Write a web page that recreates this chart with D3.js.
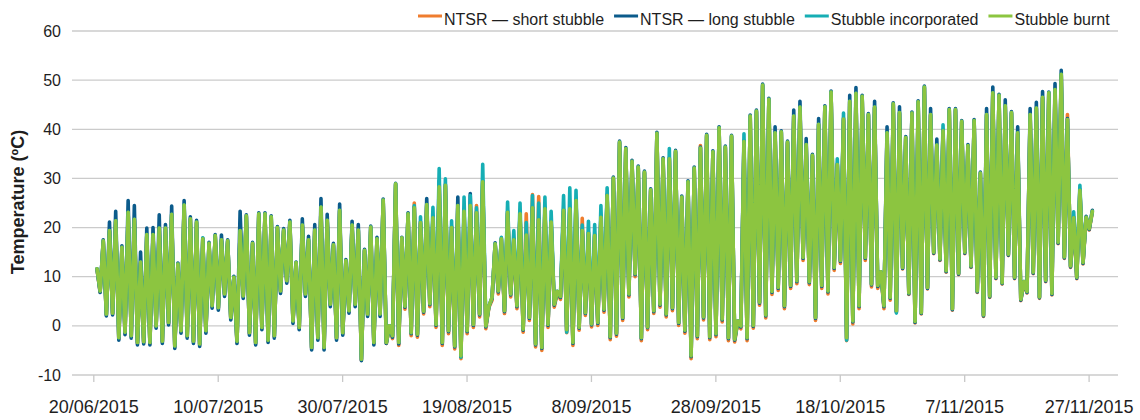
<!DOCTYPE html>
<html>
  <head>
    <meta charset="utf-8">
    <title>Temperature under stubble treatments</title>
    <script src="https://cdn.jsdelivr.net/npm/d3@7"></script>
    <style>
      body { margin: 0; background: #fff; }
      svg { display: block; font-family: "Liberation Sans", Arial, Helvetica, sans-serif; }
      .grid line { stroke: #cbcbcb; stroke-width: 1.3; }
      .xAxis line { stroke: #c8c8c8; stroke-width: 1.3; }
      .tickLabel { fill: #1e1e1e; }
      .series { fill: none; stroke-width: 3.6; stroke-linejoin: round; stroke-linecap: round; }
    </style>
  </head>
  <body>
    <svg id="chart" width="1140" height="420"></svg>

    <script>
      // ---- data: one daily low and high per treatment, 20/06/2015 to 27/11/2015
      startDay = "20/06/2015";
      endDay = "27/11/2015";
      tickLabels = ["20/06/2015", "10/07/2015", "30/07/2015", "19/08/2015", "8/09/2015",
                    "28/09/2015", "18/10/2015", "7/11/2015", "27/11/2015"];
      yTicks = [-10, 0, 10, 20, 30, 40, 50, 60];
      seriesNames = ["NTSR \u2014 short stubble", "NTSR \u2014 long stubble", "Stubble incorporated", "Stubble burnt"];
      seriesColours = ["#ef7d2e", "#0b5b8b", "#16aeb4", "#8cc540"];

      shortMax = [
        11.4, 17.1, 19.2, 21.2, 15.8, 22.9, 21.5, 12.8, 18.4, 18.4,
        19.7, 19.7, 22.5, 12.4, 24.4, 21.6, 20.9, 17.5, 16.6, 18.2,
        17.3, 17.1, 9.7, 19.2, 22.2, 16.6, 22.6, 22.6, 22.0, 19.8,
        19.3, 20.9, 12.7, 20.3, 17.3, 19.3, 24.0, 21.3, 16.3, 23.3,
        13.1, 20.3, 19.3, 15.2, 19.9, 17.5, 25.4, -0.2, 28.7, 17.7,
        22.6, 25.0, 20.8, 24.5, 21.8, 28.1, 28.4, 19.8, 24.3, 23.1,
        24.3, 24.5, 29.1, 3.8, 16.5, 17.5, 22.9, 17.3, 22.6, 22.8,
        26.7, 26.3, 23.6, 20.9, 6.8, 23.3, 23.6, 25.3, 21.9, 18.6,
        18.2, 21.9, 26.3, 29.9, 37.2, 35.9, 33.3, 32.1, 31.1, 27.5,
        39.0, 33.8, 33.8, 35.3, 26.0, 29.1, 31.9, 36.7, 38.6, 35.2,
        40.1, 36.2, 38.4, 0.8, 37.3, 42.5, 43.5, 48.8, 45.9, 39.1,
        39.3, 37.2, 42.5, 44.3, 36.7, 34.5, 40.8, 44.4, 47.4, 32.6,
        41.9, 45.5, 47.1, 46.5, 42.8, 44.3, 10.8, 39.1, 45.0, 43.2,
        38.1, 43.1, 45.4, 48.4, 42.8, 36.6, 39.5, 43.8, 43.8, 41.4,
        36.5, 41.6, 30.9, 42.8, 47.2, 46.7, 44.6, 43.2, 39.1, 8.8,
        42.8, 44.1, 46.3, 47.2, 47.9, 51.0, 43.0, 21.8, 27.4, 21.9, 23.1
      ];
      shortMin = [
        null, 6.9, 2.2, 2.4, -2.6, -1.5, -2.2, -3.6, -3.4, -3.6,
        -0.2, -3.3, 0.5, -4.3, -1.2, -2.2, -3.3, -3.9, -1.2, 3.9,
        3.5, 6.3, 1.5, -3.3, 5.9, -1.6, -3.6, -0.5, -3.1, -2.2,
        6.9, 9.0, 0.8, -0.5, 6.3, -4.6, -2.6, -4.6, 4.2, -2.6,
        -1.6, 2.9, 4.2, -7.0, 2.2, -3.6, 2.2, -3.6, -2.6, -4.0,
        3.4, -2.0, -2.3, 2.4, 3.9, -0.3, -4.0, -1.6, -4.7, -6.7,
        -1.6, -0.3, 1.8, -0.6, 5.2, 6.5, 2.5, 5.9, 3.5, -1.3,
        1.1, -4.3, -5.0, -0.3, 3.8, 5.4, -1.4, -4.0, -0.9, 2.1,
        -0.2, 0.1, 2.8, -2.8, -2.1, 1.1, 5.9, 10.0, -3.0, -0.8,
        2.5, 3.8, 1.8, 3.1, 0.1, -1.5, -6.7, -2.6, 1.2, -2.8,
        -2.2, 0.8, -3.0, -3.3, -0.6, -3.0, -0.5, 4.2, 1.6, 6.4,
        7.2, 3.5, 7.6, 8.6, 13.3, 8.4, 1.1, 7.6, 6.5, 11.3,
        12.7, -3.0, 0.4, 3.5, 13.3, 7.9, 7.6, 3.5, 5.2, 2.8,
        11.6, 6.4, 0.6, 2.4, 7.5, 14.7, 13.3, 10.9, 3.2, 10.4,
        14.7, 11.9, 6.8, 1.9, 5.8, 9.6, 8.5, 14.3, 9.6, 5.1,
        6.7, 10.6, 5.6, 9.0, 6.3, 16.7, 13.7, 11.9, 9.6, 12.6, 19.5
      ];

      longMax = [
        11.6, 17.5, 21.1, 23.3, 16.3, 25.5, 24.5, 15.0, 19.9, 20.0,
        22.6, 20.6, 24.4, 12.8, 25.5, 22.2, 21.5, 17.8, 17.0, 18.6,
        18.5, 17.5, 10.1, 23.3, 22.6, 17.0, 23.0, 23.0, 22.4, 20.2,
        19.8, 21.5, 13.0, 21.8, 18.2, 20.6, 25.9, 22.7, 16.8, 24.8,
        13.5, 21.3, 20.6, 15.6, 20.3, 18.0, 25.8, 0.0, 29.0, 18.0,
        23.0, 24.2, 21.2, 25.9, 22.3, 29.5, 28.8, 20.2, 26.2, 23.6,
        26.9, 23.2, 29.5, 4.0, 16.9, 17.8, 23.3, 17.7, 23.0, 18.7,
        24.2, 21.8, 24.0, 21.3, 7.0, 23.7, 24.0, 25.7, 19.6, 19.0,
        18.6, 22.3, 26.7, 30.3, 37.6, 36.3, 33.7, 32.5, 31.5, 27.9,
        39.4, 34.2, 34.2, 35.7, 26.4, 29.5, 32.3, 36.4, 39.0, 35.6,
        40.5, 36.6, 38.8, 1.0, 37.7, 42.9, 43.9, 49.2, 46.3, 40.5,
        39.7, 37.6, 43.9, 45.7, 38.1, 34.9, 42.2, 44.8, 47.8, 33.0,
        42.3, 46.9, 48.5, 46.9, 43.2, 45.7, 11.0, 40.5, 45.4, 44.6,
        38.5, 43.5, 45.8, 48.8, 44.2, 38.0, 39.9, 44.2, 44.2, 41.8,
        36.9, 42.0, 31.3, 44.2, 48.6, 47.1, 46.0, 43.6, 40.5, 9.0,
        44.2, 45.5, 47.7, 47.6, 49.3, 52.0, 42.2, 22.2, 27.8, 22.3, 23.5
      ];
      longMin = [
        null, 6.8, 2.0, 2.2, -2.9, -1.8, -2.5, -3.9, -3.7, -3.9,
        -0.5, -3.6, 0.2, -4.6, -1.5, -2.5, -3.6, -4.2, -1.5, 3.6,
        3.2, 6.0, 1.2, -3.6, 5.6, -1.9, -3.9, -0.8, -3.4, -2.5,
        6.6, 8.7, 0.5, -0.8, 6.0, -4.9, -2.9, -4.9, 3.9, -2.9,
        -1.9, 2.6, 3.9, -7.1, 1.9, -3.9, 1.9, -3.6, -2.3, -3.7,
        3.8, -1.6, -1.9, 2.8, 4.3, 0.1, -3.6, -1.2, -4.3, -6.3,
        -1.2, 0.1, 2.2, -0.2, 5.6, 6.9, 2.9, 6.3, 3.9, -0.9,
        1.5, -3.9, -4.6, 0.1, 4.2, 5.8, -1.0, -3.6, -0.5, 2.5,
        0.2, 0.5, 3.2, -2.4, -1.7, 1.5, 6.3, 10.4, -2.6, -0.4,
        2.9, 4.2, 2.2, 3.5, 0.5, -1.1, -6.3, -2.2, 1.6, -2.4,
        -1.8, 1.2, -2.6, -2.9, -0.2, -2.6, -0.1, 4.6, 2.0, 6.8,
        7.6, 3.9, 8.0, 9.0, 13.7, 8.8, 1.5, 8.0, 6.9, 11.7,
        13.1, -2.6, 0.8, 3.9, 13.7, 8.3, 8.0, 3.9, 5.6, 2.9,
        11.7, 6.5, 0.7, 2.5, 7.6, 14.8, 13.4, 11.0, 3.3, 10.5,
        14.8, 12.0, 6.9, 2.0, 5.9, 9.7, 8.6, 14.4, 9.7, 5.2,
        6.8, 10.7, 5.7, 9.1, 6.4, 16.8, 13.8, 12.0, 9.7, 12.7, 19.6
      ];

      incorporatedMax = [
        11.6, 17.3, 19.4, 21.4, 16.0, 23.1, 21.7, 13.0, 18.6, 18.6,
        19.9, 19.9, 22.7, 12.6, 24.6, 21.8, 21.1, 17.9, 16.8, 18.4,
        17.5, 17.3, 9.9, 19.4, 22.4, 16.8, 22.8, 22.8, 22.2, 20.0,
        19.5, 21.1, 12.9, 20.5, 17.5, 19.5, 24.2, 21.5, 16.5, 23.5,
        13.3, 20.5, 19.5, 15.4, 20.1, 17.7, 25.6, 0.0, 28.9, 17.9,
        22.8, 24.5, 22.2, 24.7, 24.1, 32.0, 29.9, 21.4, 24.5, 26.2,
        26.5, 24.0, 32.9, 4.0, 16.7, 18.0, 25.2, 19.4, 25.0, 21.0,
        26.5, 25.0, 26.2, 23.3, 7.0, 26.5, 28.1, 27.6, 20.5, 21.3,
        20.6, 24.5, 28.1, 30.1, 37.4, 36.1, 33.5, 32.3, 31.3, 27.7,
        39.2, 34.0, 36.1, 35.5, 26.2, 29.3, 32.1, 36.2, 38.8, 35.4,
        40.3, 36.4, 38.6, 1.0, 39.1, 42.7, 43.7, 49.0, 46.1, 39.3,
        39.5, 37.4, 42.7, 44.5, 36.9, 34.7, 41.0, 44.6, 47.6, 34.0,
        43.3, 45.7, 47.3, 46.7, 43.0, 44.5, 11.0, 39.3, 45.2, 43.4,
        38.3, 43.3, 45.6, 48.6, 43.0, 36.8, 40.9, 44.0, 44.0, 41.6,
        36.7, 41.8, 31.1, 43.0, 47.4, 46.9, 44.8, 43.4, 39.3, 9.0,
        43.0, 44.3, 46.5, 47.4, 48.1, 51.2, 42.0, 23.2, 28.6, 22.1, 23.3
      ];
      incorporatedMin = [
        null, 7.1, 2.4, 2.6, -2.4, -1.3, -2.0, -3.4, -3.2, -3.4,
        0.0, -3.1, 0.7, -4.1, -1.0, -2.0, -3.1, -3.7, -1.0, 4.1,
        3.7, 6.5, 1.7, -3.1, 6.1, -1.4, -3.4, -0.3, -2.9, -2.0,
        7.1, 9.2, 1.0, -0.3, 6.5, -4.4, -2.4, -4.4, 4.4, -2.4,
        -1.4, 3.1, 4.4, -6.8, 2.4, -3.4, 2.4, -3.4, -2.0, -3.4,
        4.0, -1.4, -1.7, 3.0, 4.5, 0.3, -3.4, -1.0, -4.1, -6.4,
        -1.0, 0.3, 2.4, 0.0, 5.8, 7.1, 3.1, 6.5, 4.1, -0.7,
        1.7, -3.7, -4.4, 0.3, 4.4, 6.0, -1.3, -3.4, -0.3, 2.7,
        0.4, 0.7, 3.4, -2.2, -1.5, 1.7, 6.5, 10.6, -2.4, -0.2,
        3.1, 4.4, 2.4, 3.7, 0.7, -0.9, -6.0, -2.0, 1.8, -2.2,
        -1.6, 1.4, -2.4, -2.7, 0.0, -2.4, 0.1, 4.8, 2.2, 7.0,
        7.8, 4.1, 8.2, 9.2, 13.9, 9.0, 1.7, 8.2, 7.1, 11.9,
        13.3, -2.9, 1.0, 4.1, 13.9, 8.5, 8.2, 4.1, 5.8, 2.6,
        11.9, 6.7, 0.9, 2.7, 7.8, 15.0, 13.6, 11.2, 3.5, 10.7,
        15.0, 12.2, 7.1, 2.2, 6.1, 9.9, 8.8, 14.6, 9.9, 5.4,
        7.0, 10.9, 5.9, 9.3, 6.6, 17.0, 14.0, 12.2, 9.9, 12.9, 19.8
      ];

      burntMax = [
        11.6, 17.3, 19.4, 21.4, 16.0, 23.1, 21.7, 13.0, 18.6, 18.6,
        19.9, 19.9, 22.7, 12.6, 24.6, 21.8, 21.1, 17.7, 16.8, 18.4,
        17.5, 17.3, 9.9, 19.4, 22.4, 16.8, 22.8, 22.8, 22.2, 20.0,
        19.5, 21.1, 12.9, 20.5, 17.5, 19.5, 24.2, 21.5, 16.5, 23.5,
        13.3, 20.5, 19.5, 15.4, 20.1, 17.7, 25.6, 0.0, 28.9, 17.9,
        22.8, 24.0, 21.0, 24.7, 22.0, 28.3, 28.6, 20.0, 24.5, 23.3,
        24.5, 23.0, 29.3, 4.0, 16.7, 17.7, 23.1, 17.5, 22.8, 18.5,
        24.0, 21.6, 23.8, 21.1, 7.0, 23.5, 23.8, 25.5, 19.4, 18.8,
        18.4, 22.1, 26.5, 30.1, 37.4, 36.1, 33.5, 32.3, 31.3, 27.7,
        39.2, 34.0, 34.0, 35.5, 26.2, 29.3, 32.1, 36.2, 38.8, 35.4,
        40.3, 36.4, 38.6, 1.0, 37.5, 42.7, 43.7, 49.0, 46.1, 39.3,
        39.5, 37.4, 42.7, 44.5, 36.9, 34.7, 41.0, 44.6, 47.6, 32.8,
        42.1, 45.7, 47.3, 46.7, 43.0, 44.5, 11.0, 39.3, 45.2, 43.4,
        38.3, 43.3, 45.6, 48.6, 43.0, 36.8, 39.7, 44.0, 44.0, 41.6,
        36.7, 41.8, 31.1, 43.0, 47.4, 46.9, 44.8, 43.4, 39.3, 9.0,
        43.0, 44.3, 46.5, 47.4, 48.1, 51.2, 42.0, 22.0, 27.6, 22.1, 23.3
      ];
      burntMin = [
        null, 7.1, 2.4, 2.6, -2.4, -1.3, -2.0, -3.4, -3.2, -3.4,
        0.0, -3.1, 0.7, -4.1, -1.0, -2.0, -3.1, -3.7, -1.0, 4.1,
        3.7, 6.5, 1.7, -3.1, 6.1, -1.4, -3.4, -0.3, -2.9, -2.0,
        7.1, 9.2, 1.0, -0.3, 6.5, -4.4, -2.4, -4.4, 4.4, -2.4,
        -1.4, 3.1, 4.4, -6.8, 2.4, -3.4, 2.4, -3.4, -2.0, -3.4,
        4.0, -1.4, -1.7, 3.0, 4.5, 0.3, -3.4, -1.0, -4.1, -6.1,
        -1.0, 0.3, 2.4, 0.0, 5.8, 7.1, 3.1, 6.5, 4.1, -0.7,
        1.7, -3.7, -4.4, 0.3, 4.4, 6.0, -0.8, -3.4, -0.3, 2.7,
        0.4, 0.7, 3.4, -2.2, -1.5, 1.7, 6.5, 10.6, -2.4, -0.2,
        3.1, 4.4, 2.4, 3.7, 0.7, -0.9, -6.1, -2.0, 1.8, -2.2,
        -1.6, 1.4, -2.4, -2.7, 0.0, -2.4, 0.1, 4.8, 2.2, 7.0,
        7.8, 4.1, 8.2, 9.2, 13.9, 9.0, 1.7, 8.2, 7.1, 11.9,
        13.3, -2.4, 1.0, 4.1, 13.9, 8.5, 8.2, 4.1, 5.8, 3.1,
        11.9, 6.7, 0.9, 2.7, 7.8, 15.0, 13.6, 11.2, 3.5, 10.7,
        15.0, 12.2, 7.1, 2.2, 6.1, 9.9, 8.8, 14.6, 9.9, 5.4,
        7.0, 10.9, 5.9, 9.3, 6.6, 17.0, 14.0, 12.2, 9.9, 12.9, 19.8
      ];

      // ---- page elements
      chart = d3.select("#chart");
      parseDay = d3.timeParse("%d/%m/%Y");

      // lows come in the early morning, highs in the mid afternoon
      lowHour = 2.4;
      highHour = 14.4;

      function toPoints(lows, highs) {
        points = [];
        for (i = 0; i < highs.length; i++) {
          day = d3.timeDay.offset(parseDay(startDay), i);
          if (lows[i] != null) points.push({ date: d3.timeMinute.offset(day, lowHour * 60), value: lows[i] });
          points.push({ date: d3.timeMinute.offset(day, highHour * 60), value: highs[i] });
        }
        return points;
      }

      seriesData = [
        toPoints(shortMin, shortMax),
        toPoints(longMin, longMax),
        toPoints(incorporatedMin, incorporatedMax),
        toPoints(burntMin, burntMax)
      ];

      // ---- scales
      margin = { left: 72, right: 1118, top: 31, bottom: 375 };
      x = d3.scaleTime()
        .domain([parseDay(startDay), parseDay(endDay)])
        .range([93.3, 1088.6]);
      y = d3.scaleLinear()
        .domain([-10, 60])
        .range([margin.bottom, margin.top]);

      // ---- gridlines and y labels
      grid = chart.append("g").attr("class", "grid");
      grid.selectAll("line")
          .data(yTicks)
        .enter().append("line")
          .attr("x1", margin.left)
          .attr("x2", margin.right)
          .attr("y1", function(d) { return y(d); })
          .attr("y2", function(d) { return y(d); });

      // plain hyphen for negatives, as in the original
      yAxisGroup = chart.append("g")
        .attr("transform", "translate(61, 0)")
        .call(d3.axisLeft(y).tickValues(yTicks).tickSize(0).tickPadding(0)
          .tickFormat(function(d) { return String(d); }));
      yAxisGroup.select(".domain").remove();
      yAxisGroup.selectAll("text")
        .attr("class", "tickLabel")
        .attr("font-size", 16)
        .attr("font-family", null);

      // ---- x axis: short ticks below the bottom gridline
      xAxisGroup = chart.append("g")
        .attr("class", "xAxis")
        .attr("transform", "translate(0, " + margin.bottom + ")")
        .call(d3.axisBottom(x)
          .tickValues(tickLabels.map(parseDay))
          .tickFormat(d3.timeFormat("%-d/%m/%Y"))
          .tickSize(7)
          .tickPadding(20));
      xAxisGroup.select(".domain").remove();
      xAxisGroup.selectAll("text")
        .attr("class", "tickLabel")
        .attr("font-size", 18)
        .attr("font-family", null)
        .attr("dy", null)
        .attr("y", 38);

      // ---- axis title
      chart.append("text")
        .attr("transform", "translate(24, 202) rotate(-90)")
        .attr("text-anchor", "middle")
        .attr("font-size", 18)
        .attr("font-weight", "bold")
        .attr("fill", "#1e1e1e")
        .text("Temperature (\u00baC)");

      // ---- series, burnt drawn last so it sits on top
      line = d3.line()
        .x(function(d) { return x(d.date); })
        .y(function(d) { return y(d.value); });

      chart.append("g")
        .selectAll(".series")
          .data(seriesData)
        .enter().append("path")
          .attr("class", "series")
          .attr("stroke", function(d, i) { return seriesColours[i]; })
          .attr("d", line);

      // ---- legend across the top right
      legend = chart.append("g").attr("class", "legend");
      legendX = 418;
      seriesNames.forEach(function(name, i) {
        legend.append("rect")
          .attr("x", legendX)
          .attr("y", 14.5)
          .attr("width", 24)
          .attr("height", 3)
          .attr("fill", seriesColours[i]);
        label = legend.append("text")
          .attr("x", legendX + 26)
          .attr("y", 25)
          .attr("font-size", 16)
          .attr("fill", "#1e1e1e")
          .text(name);
        legendX += 26 + label.node().getComputedTextLength() + 10;
      });
    </script>
  </body>
</html>
